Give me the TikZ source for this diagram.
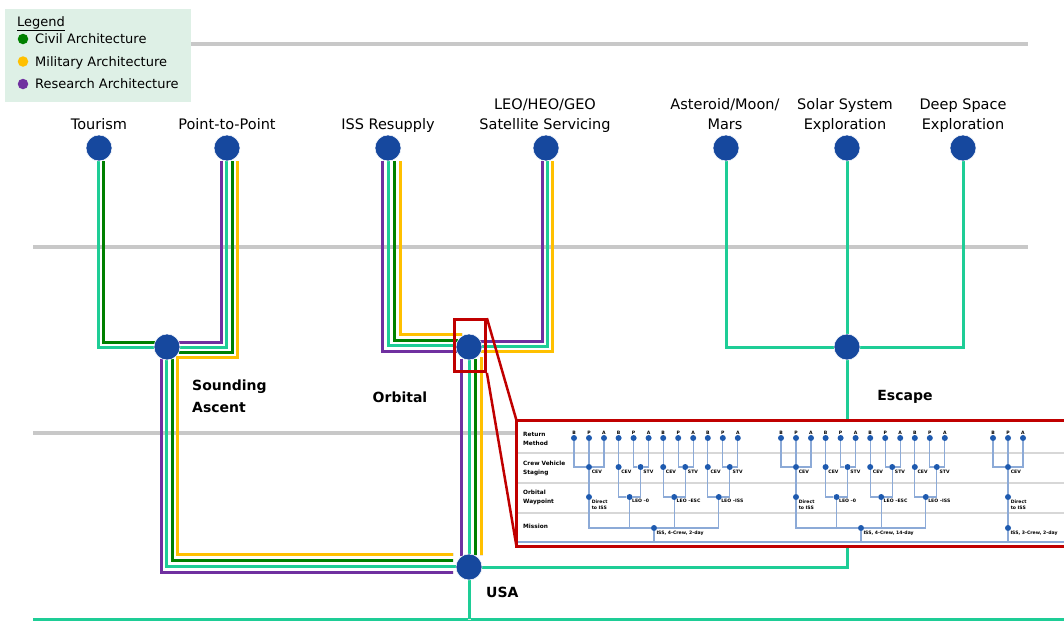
\documentclass[tikz,border=0pt]{standalone}
\usepackage{fontspec}
\setmainfont{DejaVu Sans}
\usetikzlibrary{calc}
\definecolor{nodeblue}{RGB}{22,72,158}
\definecolor{cteal}{RGB}{30,205,150}
\definecolor{cgreen}{RGB}{0,128,0}
\definecolor{cyellow}{RGB}{255,192,0}
\definecolor{cpurple}{RGB}{112,48,160}
\definecolor{cred}{RGB}{192,0,0}
\definecolor{gridgray}{RGB}{200,200,200}
\definecolor{legendbg}{RGB}{222,240,230}
\definecolor{insetline}{RGB}{140,170,215}
\definecolor{insetdot}{RGB}{30,90,175}
\definecolor{insetgrid}{RGB}{215,215,215}
\pgfdeclarelayer{bg}
\pgfdeclarelayer{ins}
\pgfsetlayers{bg,ins,main}
\begin{document}
\begin{tikzpicture}[x=1pt,y=-1pt,
  hub/.style={circle, fill=nodeblue, draw=white, line width=0.5pt, minimum size=26pt, inner sep=0pt},
  conn/.style={line width=3pt, preaction={draw=black!10, line width=3pt, transform canvas={shift={(0.7pt,-0.7pt)}}}},
  gridline/.style={draw=gridgray, line width=3.5pt},
  toplbl/.style={anchor=south, inner sep=0pt, text depth=0pt, align=center, font=\fontsize{14.5}{20}\selectfont},
  boldlbl/.style={inner sep=0pt, font=\fontsize{14}{22}\selectfont\bfseries},
  legtxt/.style={anchor=base west, inner sep=0pt, font=\fontsize{13}{15}\selectfont},
  legdot/.style={circle, minimum size=10.5pt, inner sep=0pt},
  idot/.style={circle, fill=insetdot, minimum size=6pt, inner sep=0pt},
  iline/.style={draw=insetline, line width=1.3pt},
  ilbl/.style={inner sep=0.3pt, align=left, font=\fontsize{4.6}{6}\selectfont\bfseries},
  rowlbl/.style={anchor=west, inner sep=0pt, align=left, font=\fontsize{5.8}{9}\selectfont\bfseries},
]
\useasboundingbox (0,0) rectangle (1064,621);

% legend
\node[fill=legendbg, anchor=north west, minimum width=186pt, minimum height=93pt, inner sep=0pt] (legend) at (5,9) {};
\node[legtxt] (legT) at (17,26) {\underline{Legend}};
\node[legdot, fill=cgreen] (legG) at (23,39) {};
\node[legdot, fill=cyellow] (legY) at (23,61.5) {};
\node[legdot, fill=cpurple] (legP) at (23,84) {};
\node[legtxt] (legGt) at (35,43.5) {Civil Architecture};
\node[legtxt] (legYt) at (35,66) {Military Architecture};
\node[legtxt] (legPt) at (35,88.5) {Research Architecture};

% hubs
\node[hub] (tour) at (99,148) {};
\node[hub] (ptp) at (227,148) {};
\node[hub] (iss) at (388,148) {};
\node[hub] (leo) at (546,148) {};
\node[hub] (ast) at (726,148) {};
\node[hub] (sol) at (847,148) {};
\node[hub] (deep) at (963,148) {};
\node[hub] (snd) at (167,347) {};
\node[hub] (orb) at (469,347) {};
\node[hub] (esc) at (847,347) {};
\node[hub] (usa) at (469,567) {};

% labels
\node[toplbl] (tourL) at (99,130) {Tourism};
\node[toplbl] (ptpL) at (227,130) {Point-to-Point};
\node[toplbl] (issL) at (388,130) {ISS Resupply};
\node[toplbl] (leoL) at (545,130) {LEO/HEO/GEO\\Satellite Servicing};
\node[toplbl] (astL) at (725,130) {Asteroid/Moon/\\Mars};
\node[toplbl] (solL) at (845,130) {Solar System\\Exploration};
\node[toplbl] (deepL) at (963,130) {Deep Space\\Exploration};
\node[boldlbl, anchor=south west, text depth=0pt, align=left] (sndL) at (192,413) {Sounding\\Ascent};
\node[boldlbl, anchor=base] (orbL) at (400,402) {Orbital};
\node[boldlbl, anchor=base] (escL) at (905,400) {Escape};
\node[boldlbl, anchor=base west] (usaL) at (486,597) {USA};

% coordinates
\coordinate (g1l) at (33,44); \coordinate (g1r) at (1028,44);
\coordinate (g2l) at (33,247); \coordinate (g2r) at (1028,247);
\coordinate (g3l) at (33,433); \coordinate (g3r) at (1028,433);
\coordinate (bl) at (33,619); \coordinate (br) at (1064,619);

\begin{pgfonlayer}{bg}
  \draw[gridline] (g1l) -- (g1r);
  \draw[gridline] (g2l) -- (g2r);
  \draw[gridline] (g3l) -- (g3r);
  % Tourism -> Sounding
  \draw[conn, cteal] ($(tour)+(-1,13)$) |- ($(snd)+(-13,0)$);
  \draw[conn, cgreen] ($(tour)+(4,13)$) |- ($(snd)+(-12,-5)$);
  % Point-to-Point -> Sounding
  \draw[conn, cpurple] ($(ptp)+(-6,13)$) |- ($(snd)+(12,-5)$);
  \draw[conn, cteal] ($(ptp)+(-1,13)$) |- ($(snd)+(13,0)$);
  \draw[conn, cgreen] ($(ptp)+(5,13)$) |- ($(snd)+(12,5)$);
  \draw[conn, cyellow] ($(ptp)+(10,13)$) |- ($(snd)+(9,10)$);
  % Sounding -> USA
  \draw[conn, cpurple] ($(snd)+(-6,12)$) |- ($(usa)+(-16,5)$);
  \draw[conn, cteal] ($(snd)+(-1,13)$) |- ($(usa)+(-13,-1)$);
  \draw[conn, cgreen] ($(snd)+(5,12)$) |- ($(usa)+(-16,-7)$);
  \draw[conn, cyellow] ($(snd)+(10,10)$) |- ($(usa)+(-16,-13)$);
  % ISS -> Orbital
  \draw[conn, cpurple] ($(iss)+(-6,13)$) |- ($(orb)+(-12,4)$);
  \draw[conn, cteal] ($(iss)+(0,13)$) |- ($(orb)+(-13,-2)$);
  \draw[conn, cgreen] ($(iss)+(6,13)$) |- ($(orb)+(-11,-7)$);
  \draw[conn, cyellow] ($(iss)+(12,13)$) |- ($(orb)+(-7,-13)$);
  % LEO -> Orbital
  \draw[conn, cpurple] ($(leo)+(-4,13)$) |- ($(orb)+(11,-6)$);
  \draw[conn, cteal] ($(leo)+(1,13)$) |- ($(orb)+(13,-1)$);
  \draw[conn, cyellow] ($(leo)+(6,13)$) |- ($(orb)+(11,4)$);
  % Orbital -> USA
  \draw[conn, cpurple] ($(orb)+(-8,12)$) -- ($(usa)+(-8,-11)$);
  \draw[conn, cteal] ($(orb)+(0,13)$) -- ($(usa)+(0,-13)$);
  \draw[conn, cgreen] ($(orb)+(6,12)$) -- ($(usa)+(6,-12)$);
  \draw[conn, cyellow] ($(orb)+(12,10)$) -- ($(usa)+(12,-12)$);
  % USA -> ground, USA -> Escape
  \draw[conn, cteal] (bl) -- (br);
  \draw[conn, cteal] (usa) -- (usa |- bl);
  \draw[conn, cteal] (usa) -| (esc);
  % Escape branches
  \draw[conn, cteal] (ast) |- (esc);
  \draw[conn, cteal] (deep) |- (esc);
  \draw[conn, cteal] (sol) -- (esc);
\end{pgfonlayer}

% zoom box
\node[draw=cred, line width=2.8pt, minimum width=31pt, minimum height=52pt, inner sep=0pt] (zoombox) at (470,345.5) {};
\coordinate (insTL) at (516.5,420.5);
\coordinate (insBL) at (516.5,546.5);
\coordinate (insTR) at (1064,420.5);
\coordinate (insBR) at (1064,546.5);
\coordinate (iB) at (517,542);
\coordinate (iBR) at (1064,542);
\draw[cred, line width=2.5pt] (zoombox.north east) -- (insTL);
\draw[cred, line width=2.5pt] (zoombox.south east) -- (insBL);

% inset dots
\foreach \b/\ox in {1/574,2/781} {
  \foreach \g in {0,1,2,3} {
    \pgfmathsetmacro{\gx}{\ox+44.6*\g}
    \node[idot, label={[ilbl]above:B}] (r\b-\g-1) at (\gx,438) {};
    \node[idot, label={[ilbl]above:P}] (r\b-\g-2) at (\gx+15,438) {};
    \node[idot, label={[ilbl]above:A}] (r\b-\g-3) at (\gx+30,438) {};
  }
  \node[idot, label={[ilbl,anchor=north west]south east:CEV}] (c\b-0) at (\ox+15,467) {};
  \node[idot, label={[ilbl,anchor=north west]south east:{Direct\\to ISS}}] (w\b-0) at (\ox+15,497) {};
  \foreach \g/\wl in {1/{LEO –0},2/{LEO –ESC},3/{LEO –ISS}} {
    \pgfmathsetmacro{\gx}{\ox+44.6*\g}
    \node[idot, label={[ilbl,anchor=north west]south east:CEV}] (c\b-\g) at (\gx,467) {};
    \node[idot, label={[ilbl,anchor=north west]south east:STV}] (s\b-\g) at (\gx+22,467) {};
    \node[idot] (w\b-\g) at (\gx+11,497) {};
    \node[ilbl, anchor=north west] (wl\b-\g) at (\gx+13,498.5) {\wl};
  }
  \node[idot] (m\b) at (\ox+80,528) {};
}
\node[ilbl, anchor=north west] (ml1) at (656,530) {ISS, 4-Crew, 2-day};
\node[ilbl, anchor=north west] (ml2) at (863,530) {ISS, 4-Crew, 14-day};
\node[idot, label={[ilbl]above:B}] (r3-0-1) at (993,438) {};
\node[idot, label={[ilbl]above:P}] (r3-0-2) at (1008,438) {};
\node[idot, label={[ilbl]above:A}] (r3-0-3) at (1023,438) {};
\node[idot, label={[ilbl,anchor=north west]south east:CEV}] (c3-0) at (1008,467) {};
\node[idot, label={[ilbl,anchor=north west]south east:{Direct\\to ISS}}] (w3-0) at (1008,497) {};
\node[idot] (m3) at (1008,528) {};
\begin{scope}
  \clip (insTL) rectangle (insBR);
  \node[ilbl, anchor=north west] (ml3) at (1010,530) {ISS, 3-Crew, 2-day};
\end{scope}

% row labels
\node[rowlbl] (rowRM) at (523,438.5) {Return\\Method};
\node[rowlbl] (rowCV) at (523,468) {Crew Vehicle\\Staging};
\node[rowlbl] (rowOW) at (523,497) {Orbital\\Waypoint};
\node[rowlbl] (rowMi) at (523,526) {Mission};

\begin{pgfonlayer}{ins}
  \begin{scope}
    \clip (insTL) rectangle (insBR);
    \fill[white] (insTL) rectangle (insBR);
    \foreach \yy in {453,483,513} \draw[insetgrid, line width=1.5pt] (517,\yy) -- (1064,\yy);
    \draw[iline, line width=1.6pt] (iB) -- (iBR);
    \foreach \b in {1,2,3} {
      \draw[iline] (r\b-0-1) |- (c\b-0);
      \draw[iline] (r\b-0-3) |- (c\b-0);
      \draw[iline] (r\b-0-2) -- (c\b-0) -- (w\b-0) |- (m\b);
      \draw[iline] (m\b) -- (m\b |- iB);
    }
    \foreach \b in {1,2} {
      \foreach \g in {1,2,3} {
        \draw[iline] (r\b-\g-1) -- (c\b-\g) |- (w\b-\g);
        \draw[iline] (r\b-\g-2) |- (s\b-\g);
        \draw[iline] (r\b-\g-3) |- (s\b-\g) |- (w\b-\g);
        \draw[iline] (w\b-\g) |- (m\b);
      }
    }
  \end{scope}
\end{pgfonlayer}
\draw[cred, line width=3pt] (insTR) -- (insTL) -- (insBL) -- (insBR);
\end{tikzpicture}
\end{document}
